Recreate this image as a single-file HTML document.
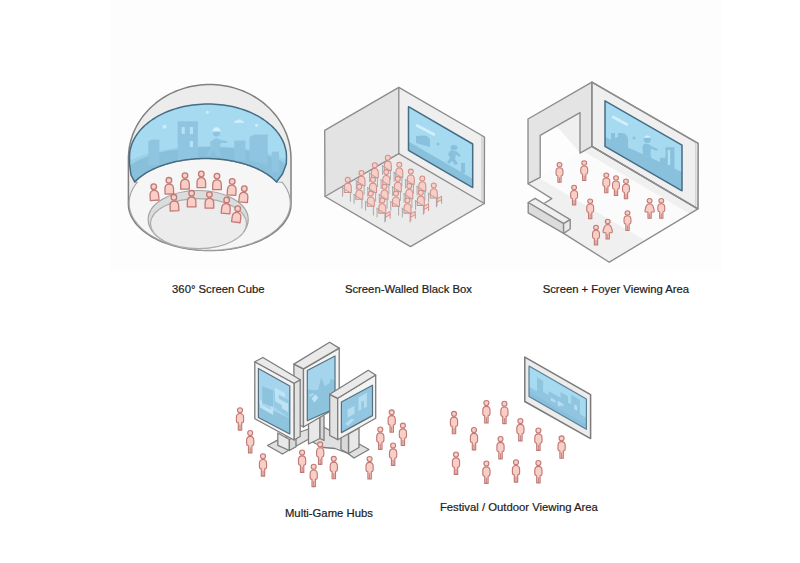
<!DOCTYPE html>
<html><head><meta charset="utf-8"><style>
html,body{margin:0;padding:0;background:#fff;}
body{width:800px;height:563px;overflow:hidden;}
svg{display:block;}
</style></head><body>
<svg width="800" height="563" viewBox="0 0 800 563">
<rect width="800" height="563" fill="#ffffff"/><rect x="111" y="0" width="611" height="271" fill="#fdfdfd"/>
<path d="M128.4,158.5 L128.5,155.6 L128.7,152.7 L129,149.8 L129.4,146.9 L130,144.1 L130.6,141.2 L131.5,138.4 L132.4,135.6 L133.4,132.9 L134.6,130.2 L135.9,127.5 L137.3,124.9 L138.8,122.3 L140.4,119.8 L142.1,117.4 L143.9,115 L145.9,112.7 L147.9,110.4 L150,108.3 L152.2,106.2 L154.5,104.2 L156.9,102.2 L159.4,100.4 L161.9,98.6 L164.5,97 L167.2,95.4 L170,93.9 L172.8,92.6 L175.7,91.3 L178.6,90.1 L181.6,89.1 L184.6,88.1 L187.6,87.3 L190.7,86.5 L193.8,85.9 L197,85.4 L200.1,85 L203.3,84.7 L206.5,84.6 L209.7,84.5 L212.9,84.6 L216.1,84.7 L219.3,85 L222.4,85.4 L225.6,85.9 L228.7,86.5 L231.8,87.3 L234.8,88.1 L237.8,89.1 L240.8,90.1 L243.7,91.3 L246.6,92.6 L249.4,93.9 L252.2,95.4 L254.9,97 L257.5,98.6 L260,100.4 L262.5,102.2 L264.9,104.2 L267.2,106.2 L269.4,108.3 L271.5,110.4 L273.5,112.7 L275.5,115 L277.3,117.4 L279,119.8 L280.6,122.3 L282.1,124.9 L283.5,127.5 L284.8,130.2 L286,132.9 L287,135.6 L287.9,138.4 L288.8,141.2 L289.4,144.1 L290,146.9 L290.4,149.8 L290.7,152.7 L290.9,155.6 L291,158.5 L291,204 L291,204 L290.9,206.4 L290.6,208.9 L290,211.3 L289.2,213.7 L288.2,216.1 L287,218.4 L285.6,220.7 L284,223 L282.1,225.2 L280.1,227.3 L277.9,229.4 L275.5,231.4 L272.9,233.3 L270.1,235.2 L267.2,237 L264.1,238.6 L260.9,240.2 L257.5,241.7 L254,243.1 L250.3,244.4 L246.6,245.5 L242.8,246.6 L238.8,247.5 L234.8,248.3 L230.7,249 L226.6,249.6 L222.4,250 L218.2,250.3 L214,250.5 L209.7,250.6 L205.4,250.5 L201.2,250.3 L197,250 L192.8,249.6 L188.7,249 L184.6,248.3 L180.6,247.5 L176.6,246.6 L172.8,245.5 L169.1,244.4 L165.4,243.1 L161.9,241.7 L158.5,240.2 L155.3,238.6 L152.2,237 L149.3,235.2 L146.5,233.3 L143.9,231.4 L141.5,229.4 L139.3,227.3 L137.3,225.2 L135.4,223 L133.8,220.7 L132.4,218.4 L131.2,216.1 L130.2,213.7 L129.4,211.3 L128.8,208.9 L128.5,206.4 L128.4,204Z" fill="#ececec" stroke="#808080" stroke-width="1.5"/><path d="M276.6,182 L274.2,179.7 L271.9,177.7 L269.5,175.9 L267.1,174.2 L264.8,172.8 L262.4,171.4 L260,170.2 L257.7,169 L255.3,167.9 L253,167 L250.6,166 L248.2,165.2 L245.9,164.4 L243.5,163.7 L241.1,163 L238.8,162.4 L236.4,161.9 L234,161.3 L231.7,160.9 L229.3,160.5 L226.9,160.1 L224.6,159.7 L222.2,159.4 L219.8,159.2 L217.5,159 L215.1,158.8 L212.7,158.7 L210.4,158.6 L208,158.5 L205.7,158.5 L203.3,158.5 L200.9,158.6 L198.6,158.7 L196.2,158.8 L193.8,159 L191.5,159.2 L189.1,159.4 L186.7,159.7 L184.4,160.1 L182,160.4 L179.6,160.9 L177.3,161.3 L174.9,161.8 L172.5,162.4 L170.2,163 L167.8,163.7 L165.4,164.4 L163.1,165.2 L160.7,166 L158.3,166.9 L156,167.9 L153.6,169 L151.3,170.1 L148.9,171.3 L146.5,172.7 L144.2,174.2 L141.8,175.8 L139.4,177.6 L137.1,179.6 L134.7,181.9 L137.2,182.3 L135.5,184.5 L134,186.7 L132.7,189 L131.6,191.3 L130.7,193.6 L130,196 L129.5,198.3 L129.2,200.7 L129.1,203.1 L129.2,205.5 L129.5,207.9 L130.1,210.3 L130.8,212.6 L131.7,214.9 L132.8,217.2 L134.2,219.5 L135.7,221.7 L137.4,223.9 L139.3,226 L141.4,228.1 L143.6,230.1 L146,232 L148.6,233.9 L151.4,235.6 L154.2,237.3 L157.3,238.9 L160.4,240.4 L163.7,241.8 L167.1,243.2 L170.6,244.4 L174.3,245.5 L178,246.5 L181.7,247.4 L185.6,248.1 L189.5,248.8 L193.5,249.3 L197.5,249.8 L201.6,250.1 L205.6,250.2 L209.7,250.3 L213.8,250.2 L217.8,250.1 L221.9,249.8 L225.9,249.3 L229.9,248.8 L233.8,248.1 L237.7,247.4 L241.4,246.5 L245.1,245.5 L248.8,244.4 L252.3,243.2 L255.7,241.8 L259,240.4 L262.1,238.9 L265.2,237.3 L268,235.6 L270.8,233.9 L273.4,232 L275.8,230.1 L278,228.1 L280.1,226 L282,223.9 L283.7,221.7 L285.2,219.5 L286.6,217.2 L287.7,214.9 L288.6,212.6 L289.3,210.3 L289.9,207.9 L290.2,205.5 L290.3,203.1 L290.2,200.7 L289.9,198.3 L289.4,196 L288.7,193.6 L287.8,191.3 L286.7,189 L285.4,186.7 L283.9,184.5 L282.2,182.3Z" fill="#f6f6f6" stroke="#a0a0a0" stroke-width="1.1"/><defs><clipPath id="cylscr"><path d="M129.5,157 L129.6,154.9 L129.7,152.8 L130,150.8 L130.5,148.7 L131,146.7 L131.7,144.6 L132.4,142.6 L133.3,140.6 L134.4,138.7 L135.5,136.7 L136.7,134.8 L138.1,132.9 L139.5,131.1 L141.1,129.3 L142.7,127.6 L144.5,125.8 L146.4,124.2 L148.3,122.6 L150.4,121 L152.5,119.5 L154.7,118.1 L157,116.7 L159.4,115.4 L161.9,114.1 L164.4,112.9 L167,111.8 L169.6,110.8 L172.4,109.8 L175.1,108.9 L178,108 L180.8,107.3 L183.7,106.6 L186.7,106 L189.7,105.5 L192.7,105 L195.7,104.7 L198.8,104.4 L201.8,104.2 L204.9,104 L208,104 L211.1,104 L214.2,104.2 L217.2,104.4 L220.3,104.7 L223.3,105 L226.3,105.5 L229.3,106 L232.3,106.6 L235.2,107.3 L238,108 L240.9,108.9 L243.6,109.8 L246.4,110.8 L249,111.8 L251.6,112.9 L254.1,114.1 L256.6,115.4 L259,116.7 L261.3,118.1 L263.5,119.5 L265.6,121 L267.7,122.6 L269.6,124.2 L271.5,125.8 L273.3,127.6 L274.9,129.3 L276.5,131.1 L277.9,132.9 L279.3,134.8 L280.5,136.7 L281.6,138.7 L282.7,140.6 L283.6,142.6 L284.3,144.6 L285,146.7 L285.5,148.7 L286,150.8 L286.3,152.8 L286.4,154.9 L286.5,157 L286.3,164 L282.5,174 L276.6,181.8 L276.6,182 L274.2,179.7 L271.9,177.7 L269.5,175.9 L267.1,174.2 L264.8,172.8 L262.4,171.4 L260,170.2 L257.7,169 L255.3,167.9 L253,167 L250.6,166 L248.2,165.2 L245.9,164.4 L243.5,163.7 L241.1,163 L238.8,162.4 L236.4,161.9 L234,161.3 L231.7,160.9 L229.3,160.5 L226.9,160.1 L224.6,159.7 L222.2,159.4 L219.8,159.2 L217.5,159 L215.1,158.8 L212.7,158.7 L210.4,158.6 L208,158.5 L205.7,158.5 L203.3,158.5 L200.9,158.6 L198.6,158.7 L196.2,158.8 L193.8,159 L191.5,159.2 L189.1,159.4 L186.7,159.7 L184.4,160.1 L182,160.4 L179.6,160.9 L177.3,161.3 L174.9,161.8 L172.5,162.4 L170.2,163 L167.8,163.7 L165.4,164.4 L163.1,165.2 L160.7,166 L158.3,166.9 L156,167.9 L153.6,169 L151.3,170.1 L148.9,171.3 L146.5,172.7 L144.2,174.2 L141.8,175.8 L139.4,177.6 L137.1,179.6 L134.7,181.9 L131,175 L129.5,164Z"/></clipPath></defs><path d="M129.5,157 L129.6,154.9 L129.7,152.8 L130,150.8 L130.5,148.7 L131,146.7 L131.7,144.6 L132.4,142.6 L133.3,140.6 L134.4,138.7 L135.5,136.7 L136.7,134.8 L138.1,132.9 L139.5,131.1 L141.1,129.3 L142.7,127.6 L144.5,125.8 L146.4,124.2 L148.3,122.6 L150.4,121 L152.5,119.5 L154.7,118.1 L157,116.7 L159.4,115.4 L161.9,114.1 L164.4,112.9 L167,111.8 L169.6,110.8 L172.4,109.8 L175.1,108.9 L178,108 L180.8,107.3 L183.7,106.6 L186.7,106 L189.7,105.5 L192.7,105 L195.7,104.7 L198.8,104.4 L201.8,104.2 L204.9,104 L208,104 L211.1,104 L214.2,104.2 L217.2,104.4 L220.3,104.7 L223.3,105 L226.3,105.5 L229.3,106 L232.3,106.6 L235.2,107.3 L238,108 L240.9,108.9 L243.6,109.8 L246.4,110.8 L249,111.8 L251.6,112.9 L254.1,114.1 L256.6,115.4 L259,116.7 L261.3,118.1 L263.5,119.5 L265.6,121 L267.7,122.6 L269.6,124.2 L271.5,125.8 L273.3,127.6 L274.9,129.3 L276.5,131.1 L277.9,132.9 L279.3,134.8 L280.5,136.7 L281.6,138.7 L282.7,140.6 L283.6,142.6 L284.3,144.6 L285,146.7 L285.5,148.7 L286,150.8 L286.3,152.8 L286.4,154.9 L286.5,157 L286.3,164 L282.5,174 L276.6,181.8 L276.6,182 L274.2,179.7 L271.9,177.7 L269.5,175.9 L267.1,174.2 L264.8,172.8 L262.4,171.4 L260,170.2 L257.7,169 L255.3,167.9 L253,167 L250.6,166 L248.2,165.2 L245.9,164.4 L243.5,163.7 L241.1,163 L238.8,162.4 L236.4,161.9 L234,161.3 L231.7,160.9 L229.3,160.5 L226.9,160.1 L224.6,159.7 L222.2,159.4 L219.8,159.2 L217.5,159 L215.1,158.8 L212.7,158.7 L210.4,158.6 L208,158.5 L205.7,158.5 L203.3,158.5 L200.9,158.6 L198.6,158.7 L196.2,158.8 L193.8,159 L191.5,159.2 L189.1,159.4 L186.7,159.7 L184.4,160.1 L182,160.4 L179.6,160.9 L177.3,161.3 L174.9,161.8 L172.5,162.4 L170.2,163 L167.8,163.7 L165.4,164.4 L163.1,165.2 L160.7,166 L158.3,166.9 L156,167.9 L153.6,169 L151.3,170.1 L148.9,171.3 L146.5,172.7 L144.2,174.2 L141.8,175.8 L139.4,177.6 L137.1,179.6 L134.7,181.9 L131,175 L129.5,164Z" fill="#a6daf1"/><g clip-path="url(#cylscr)"><path d="M107,185 L107.1,183 L107.6,180.9 L108.3,178.9 L109.2,176.9 L110.5,174.9 L112,172.9 L113.8,171 L115.8,169.1 L118.1,167.3 L120.7,165.5 L123.5,163.8 L126.5,162.1 L129.7,160.5 L133.2,158.9 L136.9,157.4 L140.7,156 L144.8,154.7 L149,153.4 L153.4,152.3 L158,151.2 L162.7,150.3 L167.5,149.4 L172.4,148.6 L177.5,147.9 L182.6,147.3 L187.8,146.9 L193,146.5 L198.3,146.2 L203.7,146.1 L209,146 L214.3,146.1 L219.7,146.2 L225,146.5 L230.2,146.9 L235.4,147.3 L240.5,147.9 L245.6,148.6 L250.5,149.4 L255.3,150.3 L260,151.2 L264.6,152.3 L269,153.4 L273.2,154.7 L277.3,156 L281.1,157.4 L284.8,158.9 L288.3,160.5 L291.5,162.1 L294.5,163.8 L297.3,165.5 L299.9,167.3 L302.2,169.1 L304.2,171 L306,172.9 L307.5,174.9 L308.8,176.9 L309.7,178.9 L310.4,180.9 L310.9,183 L311,185 L311,200 L107,200Z" fill="#9dd0e8"/><path d="M121,180 L121.1,178.3 L121.5,176.6 L122.1,174.8 L122.9,173.1 L124,171.5 L125.3,169.8 L126.8,168.2 L128.6,166.6 L130.6,165 L132.8,163.5 L135.2,162 L137.8,160.6 L140.6,159.2 L143.6,157.9 L146.8,156.7 L150.1,155.5 L153.6,154.4 L157.3,153.3 L161.1,152.3 L165,151.4 L169,150.6 L173.2,149.9 L177.5,149.2 L181.8,148.6 L186.2,148.1 L190.7,147.7 L195.2,147.4 L199.8,147.2 L204.4,147 L209,147 L213.6,147 L218.2,147.2 L222.8,147.4 L227.3,147.7 L231.8,148.1 L236.2,148.6 L240.5,149.2 L244.8,149.9 L249,150.6 L253,151.4 L256.9,152.3 L260.7,153.3 L264.4,154.4 L267.9,155.5 L271.2,156.7 L274.4,157.9 L277.4,159.2 L280.2,160.6 L282.8,162 L285.2,163.5 L287.4,165 L289.4,166.6 L291.2,168.2 L292.7,169.8 L294,171.5 L295.1,173.1 L295.9,174.8 L296.5,176.6 L296.9,178.3 L297,180 L297,200 L121,200Z" fill="#88c0dc"/><path d="M148.3,165 L148.3,141 L152,139.5 L159.4,139.5 L159.4,165 Z" fill="#8fc5e0"/><rect x="177.6" y="121.3" width="20.3" height="40" fill="#8fc5e0"/><rect x="181.6" y="127" width="3.2" height="7" fill="#b5e1f4"/><rect x="189.8" y="127" width="3.2" height="7" fill="#b5e1f4"/><rect x="189.8" y="141" width="3.2" height="6" fill="#b5e1f4"/><rect x="234.3" y="140.5" width="11.2" height="20" fill="#8fc5e0"/><path d="M249.5,160 L249.5,137 L254,134.4 L267.7,134.4 L267.7,165 Z" fill="#8fc5e0"/><rect x="271.8" y="151.6" width="7.1" height="20" fill="#8fc5e0"/><circle cx="216.5" cy="133" r="3.6" fill="#8fc5e0"/><path d="M210,142 L216,138 L221,140 L227,141 L227.5,143 L221,143 L219,149 L221,156 L216,156 L214,150 L210,156 L206,155 L211,148 Z" fill="#8fc5e0"/><path d="M212.3,131.5 Q213,127.5 216.5,127.3 Q220,127.5 220.7,131.5 Z" fill="#d4effb"/><circle cx="164.5" cy="126.7" r="2" fill="#cdecfa"/><circle cx="207.4" cy="112.2" r="1.5" fill="#cdecfa"/><circle cx="256.6" cy="125.3" r="1.6" fill="#cdecfa"/><path d="M234,123 Q235,119.5 238,120 Q240,118 242.5,121 Q244.5,121 244,123 Z" fill="#cdecfa"/></g><path d="M129.5,157 L129.6,154.9 L129.7,152.8 L130,150.8 L130.5,148.7 L131,146.7 L131.7,144.6 L132.4,142.6 L133.3,140.6 L134.4,138.7 L135.5,136.7 L136.7,134.8 L138.1,132.9 L139.5,131.1 L141.1,129.3 L142.7,127.6 L144.5,125.8 L146.4,124.2 L148.3,122.6 L150.4,121 L152.5,119.5 L154.7,118.1 L157,116.7 L159.4,115.4 L161.9,114.1 L164.4,112.9 L167,111.8 L169.6,110.8 L172.4,109.8 L175.1,108.9 L178,108 L180.8,107.3 L183.7,106.6 L186.7,106 L189.7,105.5 L192.7,105 L195.7,104.7 L198.8,104.4 L201.8,104.2 L204.9,104 L208,104 L211.1,104 L214.2,104.2 L217.2,104.4 L220.3,104.7 L223.3,105 L226.3,105.5 L229.3,106 L232.3,106.6 L235.2,107.3 L238,108 L240.9,108.9 L243.6,109.8 L246.4,110.8 L249,111.8 L251.6,112.9 L254.1,114.1 L256.6,115.4 L259,116.7 L261.3,118.1 L263.5,119.5 L265.6,121 L267.7,122.6 L269.6,124.2 L271.5,125.8 L273.3,127.6 L274.9,129.3 L276.5,131.1 L277.9,132.9 L279.3,134.8 L280.5,136.7 L281.6,138.7 L282.7,140.6 L283.6,142.6 L284.3,144.6 L285,146.7 L285.5,148.7 L286,150.8 L286.3,152.8 L286.4,154.9 L286.5,157 L286.3,164 L282.5,174 L276.6,181.8 L276.6,182 L274.2,179.7 L271.9,177.7 L269.5,175.9 L267.1,174.2 L264.8,172.8 L262.4,171.4 L260,170.2 L257.7,169 L255.3,167.9 L253,167 L250.6,166 L248.2,165.2 L245.9,164.4 L243.5,163.7 L241.1,163 L238.8,162.4 L236.4,161.9 L234,161.3 L231.7,160.9 L229.3,160.5 L226.9,160.1 L224.6,159.7 L222.2,159.4 L219.8,159.2 L217.5,159 L215.1,158.8 L212.7,158.7 L210.4,158.6 L208,158.5 L205.7,158.5 L203.3,158.5 L200.9,158.6 L198.6,158.7 L196.2,158.8 L193.8,159 L191.5,159.2 L189.1,159.4 L186.7,159.7 L184.4,160.1 L182,160.4 L179.6,160.9 L177.3,161.3 L174.9,161.8 L172.5,162.4 L170.2,163 L167.8,163.7 L165.4,164.4 L163.1,165.2 L160.7,166 L158.3,166.9 L156,167.9 L153.6,169 L151.3,170.1 L148.9,171.3 L146.5,172.7 L144.2,174.2 L141.8,175.8 L139.4,177.6 L137.1,179.6 L134.7,181.9 L131,175 L129.5,164Z" fill="none" stroke="#476c84" stroke-width="1.5" stroke-linejoin="round"/><ellipse cx="198.2" cy="219.5" rx="50" ry="29" fill="#dcdcdc" stroke="#a3a3a3" stroke-width="1.2"/><ellipse cx="198.5" cy="223.6" rx="48" ry="25" fill="#ececec" stroke="#acacac" stroke-width="1.1"/><g transform="rotate(-4 154.3 194.7)"><path d="M150,200.3 L150,195.3 C149.9,192.1 151.7,190.4 154.3,190.4 C156.9,190.4 158.7,192.1 158.6,195.3 L158.6,200.3 Z" fill="#f8cec7" stroke="#c07a75" stroke-width="1.3" stroke-linejoin="round"/><circle cx="154.3" cy="186.7" r="2.8" fill="#f8cec7" stroke="#c07a75" stroke-width="1.3"/></g><g transform="rotate(-2 169.2 188.3)"><path d="M164.9,193.9 L164.9,188.9 C164.8,185.7 166.6,184 169.2,184 C171.8,184 173.6,185.7 173.5,188.9 L173.5,193.9 Z" fill="#f8cec7" stroke="#c07a75" stroke-width="1.3" stroke-linejoin="round"/><circle cx="169.2" cy="180.3" r="2.8" fill="#f8cec7" stroke="#c07a75" stroke-width="1.3"/></g><g><path d="M180.7,189.2 L180.7,184.2 C180.6,181 182.4,179.3 185,179.3 C187.6,179.3 189.4,181 189.3,184.2 L189.3,189.2 Z" fill="#f8cec7" stroke="#c07a75" stroke-width="1.3" stroke-linejoin="round"/><circle cx="185" cy="175.6" r="2.8" fill="#f8cec7" stroke="#c07a75" stroke-width="1.3"/></g><g><path d="M197,187.6 L197,182.6 C196.9,179.4 198.7,177.7 201.3,177.7 C203.9,177.7 205.7,179.4 205.6,182.6 L205.6,187.6 Z" fill="#f8cec7" stroke="#c07a75" stroke-width="1.3" stroke-linejoin="round"/><circle cx="201.3" cy="174" r="2.8" fill="#f8cec7" stroke="#c07a75" stroke-width="1.3"/></g><g><path d="M212.7,189.7 L212.7,184.7 C212.6,181.5 214.4,179.8 217,179.8 C219.6,179.8 221.4,181.5 221.3,184.7 L221.3,189.7 Z" fill="#f8cec7" stroke="#c07a75" stroke-width="1.3" stroke-linejoin="round"/><circle cx="217" cy="176.1" r="2.8" fill="#f8cec7" stroke="#c07a75" stroke-width="1.3"/></g><g transform="rotate(3 231.8 189.5)"><path d="M227.5,195.1 L227.5,190.1 C227.4,186.9 229.2,185.2 231.8,185.2 C234.4,185.2 236.2,186.9 236.1,190.1 L236.1,195.1 Z" fill="#f8cec7" stroke="#c07a75" stroke-width="1.3" stroke-linejoin="round"/><circle cx="231.8" cy="181.5" r="2.8" fill="#f8cec7" stroke="#c07a75" stroke-width="1.3"/></g><g transform="rotate(5 243.6 196.6)"><path d="M239.3,202.2 L239.3,197.2 C239.2,194 241,192.3 243.6,192.3 C246.2,192.3 248,194 247.9,197.2 L247.9,202.2 Z" fill="#f8cec7" stroke="#c07a75" stroke-width="1.3" stroke-linejoin="round"/><circle cx="243.6" cy="188.6" r="2.8" fill="#f8cec7" stroke="#c07a75" stroke-width="1.3"/></g><g transform="rotate(-3 174.3 205.3)"><path d="M170,210.9 L170,205.9 C169.9,202.7 171.7,201 174.3,201 C176.9,201 178.7,202.7 178.6,205.9 L178.6,210.9 Z" fill="#f8cec7" stroke="#c07a75" stroke-width="1.3" stroke-linejoin="round"/><circle cx="174.3" cy="197.3" r="2.8" fill="#f8cec7" stroke="#c07a75" stroke-width="1.3"/></g><g><path d="M187.3,206.9 L187.3,201.9 C187.2,198.7 189,197 191.6,197 C194.2,197 196,198.7 195.9,201.9 L195.9,206.9 Z" fill="#f8cec7" stroke="#c07a75" stroke-width="1.3" stroke-linejoin="round"/><circle cx="191.6" cy="193.3" r="2.8" fill="#f8cec7" stroke="#c07a75" stroke-width="1.3"/></g><g><path d="M205.1,208.2 L205.1,203.2 C205,200 206.8,198.3 209.4,198.3 C212,198.3 213.8,200 213.7,203.2 L213.7,208.2 Z" fill="#f8cec7" stroke="#c07a75" stroke-width="1.3" stroke-linejoin="round"/><circle cx="209.4" cy="194.6" r="2.8" fill="#f8cec7" stroke="#c07a75" stroke-width="1.3"/></g><g transform="rotate(5 226 208)"><path d="M221.7,213.6 L221.7,208.6 C221.6,205.4 223.4,203.7 226,203.7 C228.6,203.7 230.4,205.4 230.3,208.6 L230.3,213.6 Z" fill="#f8cec7" stroke="#c07a75" stroke-width="1.3" stroke-linejoin="round"/><circle cx="226" cy="200" r="2.8" fill="#f8cec7" stroke="#c07a75" stroke-width="1.3"/></g><g transform="rotate(8 236.6 216.6)"><path d="M232.3,222.2 L232.3,217.2 C232.2,214 234,212.3 236.6,212.3 C239.2,212.3 241,214 240.9,217.2 L240.9,222.2 Z" fill="#f8cec7" stroke="#c07a75" stroke-width="1.3" stroke-linejoin="round"/><circle cx="236.6" cy="208.6" r="2.8" fill="#f8cec7" stroke="#c07a75" stroke-width="1.3"/></g><polygon points="324.7,130.4 398.8,87.4 398.8,153.6 325,196.5" fill="#e3e3e3" stroke="none" stroke-width="0" stroke-linejoin="round" /><polygon points="398.8,87.4 484.5,137 484.3,203.5 398.8,153.6" fill="#efefef" stroke="none" stroke-width="0" stroke-linejoin="round" /><polygon points="398.8,153.6 484.3,203.5 410.5,246.6 325,196.5" fill="#ebebeb" stroke="none" stroke-width="0" stroke-linejoin="round" /><polygon points="481.8,135.5 484.5,137 484.3,203.5 481.8,202" fill="#e0e0e0" stroke="none" stroke-width="0" stroke-linejoin="round" /><line x1="481.8" y1="136" x2="481.8" y2="201.5" stroke="#c8c8c8" stroke-width="0.8" stroke-linecap="round" /><defs><clipPath id="boxscr"><polygon points="408.5,106.7 472.7,144 472.7,187.6 408.5,150.3"/></clipPath></defs><polygon points="408.5,106.7 472.7,144 472.7,187.6 408.5,150.3" fill="#a6daf1" stroke="none" stroke-width="0" stroke-linejoin="round" /><g clip-path="url(#boxscr)"><polygon points="408.5,141.5 472.7,178.8 472.7,190 408.5,152" fill="#89c1dd" stroke="none" stroke-width="0" stroke-linejoin="round" /><path d="M416,143 L416,136 L423,135.5 Q428,135 430,140 L430,147 Z" fill="#89c1dd"/><line x1="417" y1="125.5" x2="434" y2="134.5" stroke="#d3effb" stroke-width="2.6" stroke-linecap="round" /><circle cx="438" cy="144" r="1.5" fill="#89c1dd"/><ellipse cx="454" cy="147.5" rx="3.5" ry="2.6" fill="#89c1dd"/><path d="M448,154 L451,150 L457,151.5 L461,156 L459,157 L456,154.5 L455,159 L458,164 L455,165 L452,161 L449,164 L447,162 L450,158 Z" fill="#89c1dd"/><rect x="461" y="163" width="4" height="10" fill="#89c1dd"/></g><polygon points="408.5,106.7 472.7,144 472.7,187.6 408.5,150.3" fill="none" stroke="#476c84" stroke-width="1.5" stroke-linejoin="round" /><polygon points="324.7,130.4 398.8,87.4 484.5,137 484.3,203.5 410.5,246.6 325,196.5" fill="none" stroke="#8c8c8c" stroke-width="1.35" stroke-linejoin="round" /><line x1="398.8" y1="87.4" x2="398.8" y2="153.6" stroke="#8c8c8c" stroke-width="1.35" stroke-linecap="round" /><line x1="398.8" y1="153.6" x2="325" y2="196.5" stroke="#8c8c8c" stroke-width="1.35" stroke-linecap="round" /><line x1="398.8" y1="153.6" x2="484.3" y2="203.5" stroke="#8c8c8c" stroke-width="1.35" stroke-linecap="round" /><line x1="382.6" y1="165.6" x2="382.6" y2="174.4" stroke="#a8a8a8" stroke-width="1.0" stroke-linecap="round" /><line x1="390.4" y1="170.4" x2="390.4" y2="179.3" stroke="#a8a8a8" stroke-width="1.0" stroke-linecap="round" /><path d="M384.3,170.4 L384.3,165.4 C384.2,162.6 385.6,161.1 387.8,161.1 C390,161.1 391.4,162.6 391.3,165.4 L391.3,170.4 Z" fill="#f8cec7" stroke="#d0908b" stroke-width="1.05" stroke-linejoin="round"/><circle cx="387.8" cy="157.8" r="2.5" fill="#f8cec7" stroke="#d0908b" stroke-width="1.05"/><line x1="382.2" y1="165.6" x2="390.8" y2="171" stroke="#a8a8a8" stroke-width="1.0" stroke-linecap="round" /><line x1="394.1" y1="172.5" x2="394.1" y2="181.3" stroke="#a8a8a8" stroke-width="1.0" stroke-linecap="round" /><line x1="401.9" y1="177.3" x2="401.9" y2="186.2" stroke="#a8a8a8" stroke-width="1.0" stroke-linecap="round" /><path d="M395.8,177.3 L395.8,172.3 C395.7,169.5 397.1,168 399.3,168 C401.5,168 402.9,169.5 402.8,172.3 L402.8,177.3 Z" fill="#f8cec7" stroke="#d0908b" stroke-width="1.05" stroke-linejoin="round"/><circle cx="399.3" cy="164.7" r="2.5" fill="#f8cec7" stroke="#d0908b" stroke-width="1.05"/><line x1="393.7" y1="172.5" x2="402.3" y2="177.9" stroke="#a8a8a8" stroke-width="1.0" stroke-linecap="round" /><line x1="405.6" y1="179.4" x2="405.6" y2="188.2" stroke="#a8a8a8" stroke-width="1.0" stroke-linecap="round" /><line x1="413.4" y1="184.2" x2="413.4" y2="193.1" stroke="#a8a8a8" stroke-width="1.0" stroke-linecap="round" /><path d="M407.3,184.2 L407.3,179.2 C407.2,176.4 408.6,174.9 410.8,174.9 C413,174.9 414.4,176.4 414.3,179.2 L414.3,184.2 Z" fill="#f8cec7" stroke="#d0908b" stroke-width="1.05" stroke-linejoin="round"/><circle cx="410.8" cy="171.6" r="2.5" fill="#f8cec7" stroke="#d0908b" stroke-width="1.05"/><line x1="405.2" y1="179.4" x2="413.8" y2="184.8" stroke="#a8a8a8" stroke-width="1.0" stroke-linecap="round" /><line x1="417.1" y1="186.3" x2="417.1" y2="195.1" stroke="#a8a8a8" stroke-width="1.0" stroke-linecap="round" /><line x1="424.9" y1="191.1" x2="424.9" y2="200" stroke="#a8a8a8" stroke-width="1.0" stroke-linecap="round" /><path d="M418.8,191.1 L418.8,186.1 C418.7,183.3 420.1,181.8 422.3,181.8 C424.5,181.8 425.9,183.3 425.8,186.1 L425.8,191.1 Z" fill="#f8cec7" stroke="#d0908b" stroke-width="1.05" stroke-linejoin="round"/><circle cx="422.3" cy="178.5" r="2.5" fill="#f8cec7" stroke="#d0908b" stroke-width="1.05"/><line x1="416.7" y1="186.3" x2="425.3" y2="191.7" stroke="#a8a8a8" stroke-width="1.0" stroke-linecap="round" /><line x1="428.6" y1="193.2" x2="428.6" y2="202" stroke="#a8a8a8" stroke-width="1.0" stroke-linecap="round" /><line x1="436.4" y1="198" x2="436.4" y2="206.9" stroke="#a8a8a8" stroke-width="1.0" stroke-linecap="round" /><polygon points="437,198.8 441.6,196.2 441.6,199.6 437,202.2" fill="#f8cec7" stroke="#d0908b" stroke-width="1.0" stroke-linejoin="round" /><line x1="437" y1="202.2" x2="437" y2="205.7" stroke="#d0908b" stroke-width="1.0" stroke-linecap="round" /><line x1="441.6" y1="199.6" x2="441.6" y2="203.2" stroke="#d0908b" stroke-width="1.0" stroke-linecap="round" /><path d="M430.3,198 L430.3,193 C430.2,190.2 431.6,188.7 433.8,188.7 C436,188.7 437.4,190.2 437.3,193 L437.3,198 Z" fill="#f8cec7" stroke="#d0908b" stroke-width="1.05" stroke-linejoin="round"/><circle cx="433.8" cy="185.4" r="2.5" fill="#f8cec7" stroke="#d0908b" stroke-width="1.05"/><line x1="428.2" y1="193.2" x2="436.8" y2="198.6" stroke="#a8a8a8" stroke-width="1.0" stroke-linecap="round" /><line x1="369.6" y1="173" x2="369.6" y2="181.8" stroke="#a8a8a8" stroke-width="1.0" stroke-linecap="round" /><line x1="377.4" y1="177.8" x2="377.4" y2="186.7" stroke="#a8a8a8" stroke-width="1.0" stroke-linecap="round" /><path d="M371.3,177.8 L371.3,172.8 C371.2,170 372.6,168.5 374.8,168.5 C377,168.5 378.4,170 378.3,172.8 L378.3,177.8 Z" fill="#f8cec7" stroke="#d0908b" stroke-width="1.05" stroke-linejoin="round"/><circle cx="374.8" cy="165.2" r="2.5" fill="#f8cec7" stroke="#d0908b" stroke-width="1.05"/><line x1="369.2" y1="173" x2="377.8" y2="178.4" stroke="#a8a8a8" stroke-width="1.0" stroke-linecap="round" /><line x1="381.1" y1="179.9" x2="381.1" y2="188.7" stroke="#a8a8a8" stroke-width="1.0" stroke-linecap="round" /><line x1="388.9" y1="184.7" x2="388.9" y2="193.6" stroke="#a8a8a8" stroke-width="1.0" stroke-linecap="round" /><path d="M382.8,184.7 L382.8,179.7 C382.7,176.9 384.1,175.4 386.3,175.4 C388.5,175.4 389.9,176.9 389.8,179.7 L389.8,184.7 Z" fill="#f8cec7" stroke="#d0908b" stroke-width="1.05" stroke-linejoin="round"/><circle cx="386.3" cy="172.1" r="2.5" fill="#f8cec7" stroke="#d0908b" stroke-width="1.05"/><line x1="380.7" y1="179.9" x2="389.3" y2="185.3" stroke="#a8a8a8" stroke-width="1.0" stroke-linecap="round" /><line x1="392.6" y1="186.8" x2="392.6" y2="195.6" stroke="#a8a8a8" stroke-width="1.0" stroke-linecap="round" /><line x1="400.4" y1="191.6" x2="400.4" y2="200.5" stroke="#a8a8a8" stroke-width="1.0" stroke-linecap="round" /><path d="M394.3,191.6 L394.3,186.6 C394.2,183.8 395.6,182.3 397.8,182.3 C400,182.3 401.4,183.8 401.3,186.6 L401.3,191.6 Z" fill="#f8cec7" stroke="#d0908b" stroke-width="1.05" stroke-linejoin="round"/><circle cx="397.8" cy="179" r="2.5" fill="#f8cec7" stroke="#d0908b" stroke-width="1.05"/><line x1="392.2" y1="186.8" x2="400.8" y2="192.2" stroke="#a8a8a8" stroke-width="1.0" stroke-linecap="round" /><line x1="404.1" y1="193.7" x2="404.1" y2="202.5" stroke="#a8a8a8" stroke-width="1.0" stroke-linecap="round" /><line x1="411.9" y1="198.5" x2="411.9" y2="207.4" stroke="#a8a8a8" stroke-width="1.0" stroke-linecap="round" /><path d="M405.8,198.5 L405.8,193.5 C405.7,190.7 407.1,189.2 409.3,189.2 C411.5,189.2 412.9,190.7 412.8,193.5 L412.8,198.5 Z" fill="#f8cec7" stroke="#d0908b" stroke-width="1.05" stroke-linejoin="round"/><circle cx="409.3" cy="185.9" r="2.5" fill="#f8cec7" stroke="#d0908b" stroke-width="1.05"/><line x1="403.7" y1="193.7" x2="412.3" y2="199.1" stroke="#a8a8a8" stroke-width="1.0" stroke-linecap="round" /><line x1="415.6" y1="200.6" x2="415.6" y2="209.4" stroke="#a8a8a8" stroke-width="1.0" stroke-linecap="round" /><line x1="423.4" y1="205.4" x2="423.4" y2="214.3" stroke="#a8a8a8" stroke-width="1.0" stroke-linecap="round" /><polygon points="424,206.2 428.6,203.6 428.6,207 424,209.6" fill="#f8cec7" stroke="#d0908b" stroke-width="1.0" stroke-linejoin="round" /><line x1="424" y1="209.6" x2="424" y2="213.1" stroke="#d0908b" stroke-width="1.0" stroke-linecap="round" /><line x1="428.6" y1="207" x2="428.6" y2="210.6" stroke="#d0908b" stroke-width="1.0" stroke-linecap="round" /><path d="M417.3,205.4 L417.3,200.4 C417.2,197.6 418.6,196.1 420.8,196.1 C423,196.1 424.4,197.6 424.3,200.4 L424.3,205.4 Z" fill="#f8cec7" stroke="#d0908b" stroke-width="1.05" stroke-linejoin="round"/><circle cx="420.8" cy="192.8" r="2.5" fill="#f8cec7" stroke="#d0908b" stroke-width="1.05"/><line x1="415.2" y1="200.6" x2="423.8" y2="206" stroke="#a8a8a8" stroke-width="1.0" stroke-linecap="round" /><line x1="356.3" y1="180.7" x2="356.3" y2="189.5" stroke="#a8a8a8" stroke-width="1.0" stroke-linecap="round" /><line x1="364.1" y1="185.5" x2="364.1" y2="194.4" stroke="#a8a8a8" stroke-width="1.0" stroke-linecap="round" /><path d="M358,185.5 L358,180.5 C357.9,177.7 359.3,176.2 361.5,176.2 C363.7,176.2 365.1,177.7 365,180.5 L365,185.5 Z" fill="#f8cec7" stroke="#d0908b" stroke-width="1.05" stroke-linejoin="round"/><circle cx="361.5" cy="172.9" r="2.5" fill="#f8cec7" stroke="#d0908b" stroke-width="1.05"/><line x1="355.9" y1="180.7" x2="364.5" y2="186.1" stroke="#a8a8a8" stroke-width="1.0" stroke-linecap="round" /><line x1="367.8" y1="187.6" x2="367.8" y2="196.4" stroke="#a8a8a8" stroke-width="1.0" stroke-linecap="round" /><line x1="375.6" y1="192.4" x2="375.6" y2="201.3" stroke="#a8a8a8" stroke-width="1.0" stroke-linecap="round" /><path d="M369.5,192.4 L369.5,187.4 C369.4,184.6 370.8,183.1 373,183.1 C375.2,183.1 376.6,184.6 376.5,187.4 L376.5,192.4 Z" fill="#f8cec7" stroke="#d0908b" stroke-width="1.05" stroke-linejoin="round"/><circle cx="373" cy="179.8" r="2.5" fill="#f8cec7" stroke="#d0908b" stroke-width="1.05"/><line x1="367.4" y1="187.6" x2="376" y2="193" stroke="#a8a8a8" stroke-width="1.0" stroke-linecap="round" /><line x1="379.3" y1="194.5" x2="379.3" y2="203.3" stroke="#a8a8a8" stroke-width="1.0" stroke-linecap="round" /><line x1="387.1" y1="199.3" x2="387.1" y2="208.2" stroke="#a8a8a8" stroke-width="1.0" stroke-linecap="round" /><path d="M381,199.3 L381,194.3 C380.9,191.5 382.3,190 384.5,190 C386.7,190 388.1,191.5 388,194.3 L388,199.3 Z" fill="#f8cec7" stroke="#d0908b" stroke-width="1.05" stroke-linejoin="round"/><circle cx="384.5" cy="186.7" r="2.5" fill="#f8cec7" stroke="#d0908b" stroke-width="1.05"/><line x1="378.9" y1="194.5" x2="387.5" y2="199.9" stroke="#a8a8a8" stroke-width="1.0" stroke-linecap="round" /><line x1="390.8" y1="201.4" x2="390.8" y2="210.2" stroke="#a8a8a8" stroke-width="1.0" stroke-linecap="round" /><line x1="398.6" y1="206.2" x2="398.6" y2="215.1" stroke="#a8a8a8" stroke-width="1.0" stroke-linecap="round" /><path d="M392.5,206.2 L392.5,201.2 C392.4,198.4 393.8,196.9 396,196.9 C398.2,196.9 399.6,198.4 399.5,201.2 L399.5,206.2 Z" fill="#f8cec7" stroke="#d0908b" stroke-width="1.05" stroke-linejoin="round"/><circle cx="396" cy="193.6" r="2.5" fill="#f8cec7" stroke="#d0908b" stroke-width="1.05"/><line x1="390.4" y1="201.4" x2="399" y2="206.8" stroke="#a8a8a8" stroke-width="1.0" stroke-linecap="round" /><line x1="402.3" y1="208.3" x2="402.3" y2="217.1" stroke="#a8a8a8" stroke-width="1.0" stroke-linecap="round" /><line x1="410.1" y1="213.1" x2="410.1" y2="222" stroke="#a8a8a8" stroke-width="1.0" stroke-linecap="round" /><polygon points="410.7,213.9 415.3,211.3 415.3,214.7 410.7,217.3" fill="#f8cec7" stroke="#d0908b" stroke-width="1.0" stroke-linejoin="round" /><line x1="410.7" y1="217.3" x2="410.7" y2="220.8" stroke="#d0908b" stroke-width="1.0" stroke-linecap="round" /><line x1="415.3" y1="214.7" x2="415.3" y2="218.3" stroke="#d0908b" stroke-width="1.0" stroke-linecap="round" /><path d="M404,213.1 L404,208.1 C403.9,205.3 405.3,203.8 407.5,203.8 C409.7,203.8 411.1,205.3 411,208.1 L411,213.1 Z" fill="#f8cec7" stroke="#d0908b" stroke-width="1.05" stroke-linejoin="round"/><circle cx="407.5" cy="200.5" r="2.5" fill="#f8cec7" stroke="#d0908b" stroke-width="1.05"/><line x1="401.9" y1="208.3" x2="410.5" y2="213.7" stroke="#a8a8a8" stroke-width="1.0" stroke-linecap="round" /><line x1="342.6" y1="187.6" x2="342.6" y2="196.4" stroke="#a8a8a8" stroke-width="1.0" stroke-linecap="round" /><line x1="350.4" y1="192.4" x2="350.4" y2="201.3" stroke="#a8a8a8" stroke-width="1.0" stroke-linecap="round" /><path d="M344.3,192.4 L344.3,187.4 C344.2,184.6 345.6,183.1 347.8,183.1 C350,183.1 351.4,184.6 351.3,187.4 L351.3,192.4 Z" fill="#f8cec7" stroke="#d0908b" stroke-width="1.05" stroke-linejoin="round"/><circle cx="347.8" cy="179.8" r="2.5" fill="#f8cec7" stroke="#d0908b" stroke-width="1.05"/><line x1="342.2" y1="187.6" x2="350.8" y2="193" stroke="#a8a8a8" stroke-width="1.0" stroke-linecap="round" /><line x1="354.1" y1="194.5" x2="354.1" y2="203.3" stroke="#a8a8a8" stroke-width="1.0" stroke-linecap="round" /><line x1="361.9" y1="199.3" x2="361.9" y2="208.2" stroke="#a8a8a8" stroke-width="1.0" stroke-linecap="round" /><path d="M355.8,199.3 L355.8,194.3 C355.7,191.5 357.1,190 359.3,190 C361.5,190 362.9,191.5 362.8,194.3 L362.8,199.3 Z" fill="#f8cec7" stroke="#d0908b" stroke-width="1.05" stroke-linejoin="round"/><circle cx="359.3" cy="186.7" r="2.5" fill="#f8cec7" stroke="#d0908b" stroke-width="1.05"/><line x1="353.7" y1="194.5" x2="362.3" y2="199.9" stroke="#a8a8a8" stroke-width="1.0" stroke-linecap="round" /><line x1="365.6" y1="201.4" x2="365.6" y2="210.2" stroke="#a8a8a8" stroke-width="1.0" stroke-linecap="round" /><line x1="373.4" y1="206.2" x2="373.4" y2="215.1" stroke="#a8a8a8" stroke-width="1.0" stroke-linecap="round" /><path d="M367.3,206.2 L367.3,201.2 C367.2,198.4 368.6,196.9 370.8,196.9 C373,196.9 374.4,198.4 374.3,201.2 L374.3,206.2 Z" fill="#f8cec7" stroke="#d0908b" stroke-width="1.05" stroke-linejoin="round"/><circle cx="370.8" cy="193.6" r="2.5" fill="#f8cec7" stroke="#d0908b" stroke-width="1.05"/><line x1="365.2" y1="201.4" x2="373.8" y2="206.8" stroke="#a8a8a8" stroke-width="1.0" stroke-linecap="round" /><line x1="377.1" y1="208.3" x2="377.1" y2="217.1" stroke="#a8a8a8" stroke-width="1.0" stroke-linecap="round" /><line x1="384.9" y1="213.1" x2="384.9" y2="222" stroke="#a8a8a8" stroke-width="1.0" stroke-linecap="round" /><polygon points="385.5,213.9 390.1,211.3 390.1,214.7 385.5,217.3" fill="#f8cec7" stroke="#d0908b" stroke-width="1.0" stroke-linejoin="round" /><line x1="385.5" y1="217.3" x2="385.5" y2="220.8" stroke="#d0908b" stroke-width="1.0" stroke-linecap="round" /><line x1="390.1" y1="214.7" x2="390.1" y2="218.3" stroke="#d0908b" stroke-width="1.0" stroke-linecap="round" /><path d="M378.8,213.1 L378.8,208.1 C378.7,205.3 380.1,203.8 382.3,203.8 C384.5,203.8 385.9,205.3 385.8,208.1 L385.8,213.1 Z" fill="#f8cec7" stroke="#d0908b" stroke-width="1.05" stroke-linejoin="round"/><circle cx="382.3" cy="200.5" r="2.5" fill="#f8cec7" stroke="#d0908b" stroke-width="1.05"/><line x1="376.7" y1="208.3" x2="385.3" y2="213.7" stroke="#a8a8a8" stroke-width="1.0" stroke-linecap="round" /><defs><clipPath id="foyfloor"><polygon points="591.9,146.3 697.9,208.8 609.3,262.2 563.6,233.4 528.2,212.9 528.2,202.5 535,198.3 544.4,203.3 551.8,198.6 528,183.7"/></clipPath></defs><polygon points="591.9,146.3 697.9,208.8 609.3,262.2 563.6,233.4 528.2,212.9 528.2,202.5 535,198.3 544.4,203.3 551.8,198.6 528,183.7" fill="#fbfbfb" stroke="none" stroke-width="0" stroke-linejoin="round" /><g clip-path="url(#foyfloor)"><polygon points="561.9,128.6 741.9,234.7 741.9,244.7 561.9,138.6" fill="#f0f0f0" stroke="none" stroke-width="0" stroke-linejoin="round" /><polygon points="500,155 720,284.7 720,400 500,400" fill="#f0f0f0" stroke="none" stroke-width="0" stroke-linejoin="round" /></g><polygon points="555,124 580,110 580,153" fill="#efefef" stroke="none" stroke-width="0" stroke-linejoin="round" /><polygon points="528,119 591.9,82.1 591.9,146.3 580,153.2 580,112.7 540.2,135.4 540.2,177.3 528,183.7" fill="#e4e4e4" stroke="#8c8c8c" stroke-width="1.35" stroke-linejoin="round" /><line x1="528.2" y1="119.2" x2="540.2" y2="135.4" stroke="none" stroke-width="0" stroke-linecap="round" /><polygon points="591.9,82.1 698.1,143.4 697.9,208.8 591.9,146.3" fill="#efefef" stroke="#8c8c8c" stroke-width="1.35" stroke-linejoin="round" /><polygon points="695.5,142 698.1,143.4 697.9,208.8 695.5,207.4" fill="#e2e2e2" stroke="none" stroke-width="0" stroke-linejoin="round" /><line x1="695.5" y1="142.5" x2="695.5" y2="207" stroke="#cfcfcf" stroke-width="0.8" stroke-linecap="round" /><polygon points="591.9,82.1 698.1,143.4 697.9,208.8 591.9,146.3" fill="none" stroke="#8c8c8c" stroke-width="1.35" stroke-linejoin="round" /><defs><clipPath id="foyscr"><polygon points="605,100.8 682,145.2 682,190.8 605,146.4"/></clipPath></defs><polygon points="605,100.8 682,145.2 682,190.8 605,146.4" fill="#a6daf1" stroke="none" stroke-width="0" stroke-linejoin="round" /><g clip-path="url(#foyscr)"><polygon points="605,137 682,172 682,195 605,150" fill="#89c1dd" stroke="none" stroke-width="0" stroke-linejoin="round" /><path d="M611,141 L611,133 L615,133 L615,138 L618,137 L618,133 L622,133 Q627,133 628,139 L628,150 Z" fill="#89c1dd"/><line x1="613" y1="117" x2="627" y2="124.5" stroke="#d3effb" stroke-width="2.6" stroke-linecap="round" /><circle cx="634" cy="138" r="1.5" fill="#89c1dd"/><circle cx="647.3" cy="139.5" r="3.6" fill="#89c1dd"/><path d="M642.5,147 Q643,143.5 646.5,143.8 L649.5,144.5 Q651.5,145.5 651,149 L650.5,155 L646.5,156.5 L643,155 Z" fill="#89c1dd"/><line x1="650" y1="147" x2="656.5" y2="149.5" stroke="#89c1dd" stroke-width="2.4" stroke-linecap="round" /><line x1="645.5" y1="155" x2="641" y2="162" stroke="#89c1dd" stroke-width="2.8" stroke-linecap="round" /><line x1="649" y1="155" x2="651.5" y2="163" stroke="#89c1dd" stroke-width="2.8" stroke-linecap="round" /><path d="M643.5,137.8 Q647.3,133.3 651.1,137.8 Z" fill="#d4effb"/><path d="M660,176 L660,157.7 L665.5,157.7 L665.5,147.3 L674.4,147.3 L674.4,180 Z" fill="#89c1dd"/><rect x="667.8" y="150" width="2.4" height="15" fill="#b3e0f3"/></g><polygon points="605,100.8 682,145.2 682,190.8 605,146.4" fill="none" stroke="#476c84" stroke-width="1.5" stroke-linejoin="round" /><polyline points="563.6,233.4 609.3,262.2 697.9,208.8" fill="none" stroke="#8c8c8c" stroke-width="1.35" stroke-linejoin="round"/><polyline points="528,183.7 551.8,198.6 544.4,203.3" fill="none" stroke="#8c8c8c" stroke-width="1.35" stroke-linejoin="round"/><line x1="591.9" y1="146.3" x2="697.9" y2="208.8" stroke="#8c8c8c" stroke-width="1.35" stroke-linecap="round" /><polygon points="528.2,202.5 535,198.3 570.2,219.7 563.6,223.7" fill="#efefef" stroke="#8c8c8c" stroke-width="1.4" stroke-linejoin="round" /><polygon points="528.2,202.5 563.6,223.7 563.6,233.4 528.2,212.9" fill="#dcdcdc" stroke="#8c8c8c" stroke-width="1.4" stroke-linejoin="round" /><polygon points="563.6,223.7 570.2,219.7 570.2,229 563.6,233.4" fill="#e9e9e9" stroke="#8c8c8c" stroke-width="1.4" stroke-linejoin="round" /><g transform="translate(559.5,164.8) scale(0.96,0.88) translate(-559.5,-164.8)"><path d="M557.8,177.5 L557.8,184.7 L561.2,184.7 L561.2,177.5 C562.4,177.4 563.1,176.5 563.1,175 L563.1,172.1 C563.1,169.7 561.6,168.1 559.5,168.1 C557.4,168.1 555.9,169.7 555.9,172.1 L555.9,175 C555.9,176.5 556.6,177.4 557.8,177.5 Z" fill="#f8cec7" stroke="#c07a75" stroke-width="1.15" stroke-linejoin="round"/><line x1="559.5" y1="179.2" x2="559.5" y2="184.7" stroke="#c07a75" stroke-width="0.9"/><circle cx="559.5" cy="164.8" r="2.5" fill="#f8cec7" stroke="#c07a75" stroke-width="1.15"/></g><g transform="translate(584.2,163) scale(0.96,0.88) translate(-584.2,-163)"><path d="M582.5,175.7 L582.5,182.9 L585.9,182.9 L585.9,175.7 C587.1,175.6 587.8,174.7 587.8,173.2 L587.8,170.3 C587.8,167.9 586.3,166.3 584.2,166.3 C582.1,166.3 580.6,167.9 580.6,170.3 L580.6,173.2 C580.6,174.7 581.3,175.6 582.5,175.7 Z" fill="#f8cec7" stroke="#c07a75" stroke-width="1.15" stroke-linejoin="round"/><line x1="584.2" y1="177.4" x2="584.2" y2="182.9" stroke="#c07a75" stroke-width="0.9"/><circle cx="584.2" cy="163" r="2.5" fill="#f8cec7" stroke="#c07a75" stroke-width="1.15"/></g><g transform="translate(606.3,175.2) scale(0.96,0.88) translate(-606.3,-175.2)"><path d="M604.6,187.9 L604.6,195.1 L608,195.1 L608,187.9 C609.2,187.8 609.9,186.9 609.9,185.4 L609.9,182.5 C609.9,180.1 608.4,178.5 606.3,178.5 C604.2,178.5 602.7,180.1 602.7,182.5 L602.7,185.4 C602.7,186.9 603.4,187.8 604.6,187.9 Z" fill="#f8cec7" stroke="#c07a75" stroke-width="1.15" stroke-linejoin="round"/><line x1="606.3" y1="189.6" x2="606.3" y2="195.1" stroke="#c07a75" stroke-width="0.9"/><circle cx="606.3" cy="175.2" r="2.5" fill="#f8cec7" stroke="#c07a75" stroke-width="1.15"/></g><g transform="translate(616,178) scale(0.96,0.88) translate(-616,-178)"><path d="M614.3,190.7 L614.3,197.9 L617.7,197.9 L617.7,190.7 C618.9,190.6 619.6,189.7 619.6,188.2 L619.6,185.3 C619.6,182.9 618.1,181.3 616,181.3 C613.9,181.3 612.4,182.9 612.4,185.3 L612.4,188.2 C612.4,189.7 613.1,190.6 614.3,190.7 Z" fill="#f8cec7" stroke="#c07a75" stroke-width="1.15" stroke-linejoin="round"/><line x1="616" y1="192.4" x2="616" y2="197.9" stroke="#c07a75" stroke-width="0.9"/><circle cx="616" cy="178" r="2.5" fill="#f8cec7" stroke="#c07a75" stroke-width="1.15"/></g><g transform="translate(626,181.3) scale(0.96,0.88) translate(-626,-181.3)"><path d="M624.3,194 L624.3,201.2 L627.7,201.2 L627.7,194 C628.9,193.9 629.6,193 629.6,191.5 L629.6,188.6 C629.6,186.2 628.1,184.6 626,184.6 C623.9,184.6 622.4,186.2 622.4,188.6 L622.4,191.5 C622.4,193 623.1,193.9 624.3,194 Z" fill="#f8cec7" stroke="#c07a75" stroke-width="1.15" stroke-linejoin="round"/><line x1="626" y1="195.7" x2="626" y2="201.2" stroke="#c07a75" stroke-width="0.9"/><circle cx="626" cy="181.3" r="2.5" fill="#f8cec7" stroke="#c07a75" stroke-width="1.15"/></g><g transform="translate(574.1,187.5) scale(0.96,0.88) translate(-574.1,-187.5)"><path d="M572.4,200.2 L572.4,207.4 L575.8,207.4 L575.8,200.2 C577,200.1 577.7,199.2 577.7,197.7 L577.7,194.8 C577.7,192.4 576.2,190.8 574.1,190.8 C572,190.8 570.5,192.4 570.5,194.8 L570.5,197.7 C570.5,199.2 571.2,200.1 572.4,200.2 Z" fill="#f8cec7" stroke="#c07a75" stroke-width="1.15" stroke-linejoin="round"/><line x1="574.1" y1="201.9" x2="574.1" y2="207.4" stroke="#c07a75" stroke-width="0.9"/><circle cx="574.1" cy="187.5" r="2.5" fill="#f8cec7" stroke="#c07a75" stroke-width="1.15"/></g><g transform="translate(590.2,201.2) scale(0.96,0.88) translate(-590.2,-201.2)"><path d="M588.5,213.9 L588.5,221.1 L591.9,221.1 L591.9,213.9 C593.1,213.8 593.8,212.9 593.8,211.4 L593.8,208.5 C593.8,206.1 592.3,204.5 590.2,204.5 C588.1,204.5 586.6,206.1 586.6,208.5 L586.6,211.4 C586.6,212.9 587.3,213.8 588.5,213.9 Z" fill="#f8cec7" stroke="#c07a75" stroke-width="1.15" stroke-linejoin="round"/><line x1="590.2" y1="215.6" x2="590.2" y2="221.1" stroke="#c07a75" stroke-width="0.9"/><circle cx="590.2" cy="201.2" r="2.5" fill="#f8cec7" stroke="#c07a75" stroke-width="1.15"/></g><g transform="translate(649.6,200.8) scale(0.96,0.88) translate(-649.6,-200.8)"><path d="M647.9,213.6 L647.9,220.7 L651.3,220.7 L651.3,213.6 L653.9,213.6 C654.7,213.4 654.5,211.6 653.9,209.6 C653.4,207.3 653.2,204.2 649.6,204.1 C646,204.2 645.8,207.3 645.3,209.6 C644.7,211.6 644.5,213.4 645.3,213.6 Z" fill="#f8cec7" stroke="#c07a75" stroke-width="1.15" stroke-linejoin="round"/><line x1="649.6" y1="215.2" x2="649.6" y2="220.7" stroke="#c07a75" stroke-width="0.9"/><circle cx="649.6" cy="200.8" r="2.5" fill="#f8cec7" stroke="#c07a75" stroke-width="1.15"/></g><g transform="translate(661.3,200.8) scale(0.96,0.88) translate(-661.3,-200.8)"><path d="M659.6,213.5 L659.6,220.7 L663,220.7 L663,213.5 C664.2,213.4 664.9,212.5 664.9,211 L664.9,208.1 C664.9,205.7 663.4,204.1 661.3,204.1 C659.2,204.1 657.7,205.7 657.7,208.1 L657.7,211 C657.7,212.5 658.4,213.4 659.6,213.5 Z" fill="#f8cec7" stroke="#c07a75" stroke-width="1.15" stroke-linejoin="round"/><line x1="661.3" y1="215.2" x2="661.3" y2="220.7" stroke="#c07a75" stroke-width="0.9"/><circle cx="661.3" cy="200.8" r="2.5" fill="#f8cec7" stroke="#c07a75" stroke-width="1.15"/></g><g transform="translate(627.5,212.9) scale(0.96,0.88) translate(-627.5,-212.9)"><path d="M625.8,225.6 L625.8,232.8 L629.2,232.8 L629.2,225.6 C630.4,225.5 631.1,224.6 631.1,223.1 L631.1,220.2 C631.1,217.8 629.6,216.2 627.5,216.2 C625.4,216.2 623.9,217.8 623.9,220.2 L623.9,223.1 C623.9,224.6 624.6,225.5 625.8,225.6 Z" fill="#f8cec7" stroke="#c07a75" stroke-width="1.15" stroke-linejoin="round"/><line x1="627.5" y1="227.3" x2="627.5" y2="232.8" stroke="#c07a75" stroke-width="0.9"/><circle cx="627.5" cy="212.9" r="2.5" fill="#f8cec7" stroke="#c07a75" stroke-width="1.15"/></g><g transform="translate(596,227.4) scale(0.96,0.88) translate(-596,-227.4)"><path d="M594.3,240.1 L594.3,247.3 L597.7,247.3 L597.7,240.1 C598.9,240 599.6,239.1 599.6,237.6 L599.6,234.7 C599.6,232.3 598.1,230.7 596,230.7 C593.9,230.7 592.4,232.3 592.4,234.7 L592.4,237.6 C592.4,239.1 593.1,240 594.3,240.1 Z" fill="#f8cec7" stroke="#c07a75" stroke-width="1.15" stroke-linejoin="round"/><line x1="596" y1="241.8" x2="596" y2="247.3" stroke="#c07a75" stroke-width="0.9"/><circle cx="596" cy="227.4" r="2.5" fill="#f8cec7" stroke="#c07a75" stroke-width="1.15"/></g><g transform="translate(607.7,221.5) scale(0.96,0.88) translate(-607.7,-221.5)"><path d="M606,234.3 L606,241.4 L609.4,241.4 L609.4,234.3 L612,234.3 C612.8,234.1 612.6,232.3 612,230.3 C611.5,228 611.3,224.9 607.7,224.8 C604.1,224.9 603.9,228 603.4,230.3 C602.8,232.3 602.6,234.1 603.4,234.3 Z" fill="#f8cec7" stroke="#c07a75" stroke-width="1.15" stroke-linejoin="round"/><line x1="607.7" y1="235.9" x2="607.7" y2="241.4" stroke="#c07a75" stroke-width="0.9"/><circle cx="607.7" cy="221.5" r="2.5" fill="#f8cec7" stroke="#c07a75" stroke-width="1.15"/></g><polygon points="267.5,445.5 276.6,440.6 300,432 320,425 329,430 345,441 360,444.5 369,449.5 354,458 348,453.5 335,448.5 323.5,447.5 316.5,444 308,439.5 290,449.5 282.5,454" fill="#e0e0e0" stroke="#7d7d7d" stroke-width="1.3" stroke-linejoin="round" /><polygon points="277.8,433 289.4,439.5 289.4,450.5 277.8,445.3" fill="#e8e8e8" stroke="#7d7d7d" stroke-width="1.3" stroke-linejoin="round" /><polygon points="289.4,439.5 296,436 296,446.8 289.4,450.5" fill="#d9d9d9" stroke="#7d7d7d" stroke-width="1.3" stroke-linejoin="round" /><polygon points="308.5,420 320,414 320,438.5 308.5,444" fill="#e8e8e8" stroke="#7d7d7d" stroke-width="1.3" stroke-linejoin="round" /><polygon points="320,414 324,416 324,440.5 320,438.5" fill="#d6d6d6" stroke="#7d7d7d" stroke-width="1.3" stroke-linejoin="round" /><polygon points="348.5,434 359,428 359,447.5 348.5,453.5" fill="#e8e8e8" stroke="#7d7d7d" stroke-width="1.3" stroke-linejoin="round" /><polygon points="341,430 348.5,434 348.5,453.5 341,449.5" fill="#d9d9d9" stroke="#7d7d7d" stroke-width="1.3" stroke-linejoin="round" /><polygon points="293.9,364.1 303.5,368.9 303.5,427 293.9,422" fill="#e2e2e2" stroke="#7d7d7d" stroke-width="1.3" stroke-linejoin="round" /><polygon points="303.5,368.9 339.2,348.1 339.2,406 303.5,427" fill="#f3f3f3" stroke="#7d7d7d" stroke-width="1.3" stroke-linejoin="round" /><polygon points="293.9,364.1 329.6,342.3 339.2,348.1 303.5,368.9" fill="#eaeaea" stroke="#7d7d7d" stroke-width="1.3" stroke-linejoin="round" /><defs><clipPath id="kscr1"><polygon points="307.3,370.5 335,356 335,408.4 307.3,420.8"/></clipPath></defs><polygon points="307.3,370.5 335,356 335,408.4 307.3,420.8" fill="#a5d5ec" stroke="none" stroke-width="0" stroke-linejoin="round" /><g clip-path="url(#kscr1)"><polygon points="307.3,389.1 312.8,390.2 318.1,390 321.1,377.3 324.8,386.5 329.5,383 330.8,378.3 332.8,379.8 335,381.1 335,406.3 307.3,420.8" fill="#8ec3de"/><polygon points="311.5,398.5 315.6,394.3 318.4,397.9 314.2,402.6" fill="#bde3f4"/><polygon points="308.7,394.9 312.8,392.8 314.2,394.5 310.1,397.2" fill="#a9d6ec"/></g><polygon points="307.3,370.5 335,356 335,408.4 307.3,420.8" fill="none" stroke="#56707f" stroke-width="1.2" stroke-linejoin="round" /><polygon points="294,383.3 300.2,379.8 300.2,436.5 294,440" fill="#e2e2e2" stroke="#7d7d7d" stroke-width="1.3" stroke-linejoin="round" /><polygon points="254.8,361.8 294,383.3 294,440 254.8,418.7" fill="#f3f3f3" stroke="#7d7d7d" stroke-width="1.3" stroke-linejoin="round" /><polygon points="254.8,361.8 262.9,357.5 300.2,379.8 294,383.3" fill="#eaeaea" stroke="#7d7d7d" stroke-width="1.3" stroke-linejoin="round" /><defs><clipPath id="kscr2"><polygon points="258.4,368.4 289.8,386 289.8,434 258.4,417.5"/></clipPath></defs><polygon points="258.4,368.4 289.8,386 289.8,434 258.4,417.5" fill="#a5d5ec" stroke="none" stroke-width="0" stroke-linejoin="round" /><g clip-path="url(#kscr2)"><polygon points="262.2,386.2 273.2,390.4 273.2,407.1 262.2,402.9" fill="#8ec3de"/><polygon points="258.4,403.8 289.8,418.4 289.8,435.1 258.4,417.5" fill="#8ec3de"/><polygon points="274.1,391.9 289.8,400.7 289.8,418.4 274.1,406.7" fill="#96c9e2"/><polygon points="260,399.7 262.2,401 262.2,404.9 271,409.8 271,405.9 273.2,407.1 273.2,415 260,407.6" fill="#bde3f4"/><polygon points="275,387.5 285.1,393.2 285.1,398.1 278.8,394.6 278.8,398.5 288.2,403.8 288.2,412.1 281.9,408.6 281.9,405.2 275,401.3" fill="#bde3f4"/></g><polygon points="258.4,368.4 289.8,386 289.8,434 258.4,417.5" fill="none" stroke="#56707f" stroke-width="1.2" stroke-linejoin="round" /><polygon points="329.7,394.3 337.7,398.3 337.7,439.7 329.7,435.5" fill="#e2e2e2" stroke="#7d7d7d" stroke-width="1.3" stroke-linejoin="round" /><polygon points="337.7,398.3 375.7,375 375.7,418.3 337.7,439.7" fill="#f3f3f3" stroke="#7d7d7d" stroke-width="1.3" stroke-linejoin="round" /><polygon points="329.7,394.3 368.3,370.3 375.7,375 337.7,398.3" fill="#eaeaea" stroke="#7d7d7d" stroke-width="1.3" stroke-linejoin="round" /><defs><clipPath id="kscr3"><polygon points="341.4,402 372.5,385.2 372.5,415.6 341.4,432.6"/></clipPath></defs><polygon points="341.4,402 372.5,385.2 372.5,415.6 341.4,432.6" fill="#92c6e1" stroke="none" stroke-width="0" stroke-linejoin="round" /><g clip-path="url(#kscr3)"><polygon points="347.6,409.4 354.5,405.7 354.5,413.9 347.6,417.6" fill="#b5ddf0"/><polygon points="358.5,397.4 366.9,392.8 366.9,406.6 363.8,408.3 363.8,400.6 361.3,402 361.3,409.6 358.5,411.1" fill="#b5ddf0"/><polygon points="345.1,423.9 350.7,419 354.5,419.4 348.2,425.8" fill="#b5ddf0"/></g><polygon points="341.4,402 372.5,385.2 372.5,415.6 341.4,432.6" fill="none" stroke="#56707f" stroke-width="1.2" stroke-linejoin="round" /><g><path d="M238.3,422.9 L238.3,430.1 L241.7,430.1 L241.7,422.9 C242.9,422.8 243.6,421.9 243.6,420.4 L243.6,417.5 C243.6,415.1 242.1,413.5 240,413.5 C237.9,413.5 236.4,415.1 236.4,417.5 L236.4,420.4 C236.4,421.9 237.1,422.8 238.3,422.9 Z" fill="#f8cec7" stroke="#c07a75" stroke-width="1.15" stroke-linejoin="round"/><line x1="240" y1="424.6" x2="240" y2="430.1" stroke="#c07a75" stroke-width="0.9"/><circle cx="240" cy="410.2" r="2.5" fill="#f8cec7" stroke="#c07a75" stroke-width="1.15"/></g><g><path d="M248.5,445.7 L248.5,452.9 L251.9,452.9 L251.9,445.7 C253.1,445.6 253.8,444.7 253.8,443.2 L253.8,440.3 C253.8,437.9 252.3,436.3 250.2,436.3 C248.1,436.3 246.6,437.9 246.6,440.3 L246.6,443.2 C246.6,444.7 247.3,445.6 248.5,445.7 Z" fill="#f8cec7" stroke="#c07a75" stroke-width="1.15" stroke-linejoin="round"/><line x1="250.2" y1="447.4" x2="250.2" y2="452.9" stroke="#c07a75" stroke-width="0.9"/><circle cx="250.2" cy="433" r="2.5" fill="#f8cec7" stroke="#c07a75" stroke-width="1.15"/></g><g><path d="M261.3,468.9 L261.3,476.1 L264.7,476.1 L264.7,468.9 C265.9,468.8 266.6,467.9 266.6,466.4 L266.6,463.5 C266.6,461.1 265.1,459.5 263,459.5 C260.9,459.5 259.4,461.1 259.4,463.5 L259.4,466.4 C259.4,467.9 260.1,468.8 261.3,468.9 Z" fill="#f8cec7" stroke="#c07a75" stroke-width="1.15" stroke-linejoin="round"/><line x1="263" y1="470.6" x2="263" y2="476.1" stroke="#c07a75" stroke-width="0.9"/><circle cx="263" cy="456.2" r="2.5" fill="#f8cec7" stroke="#c07a75" stroke-width="1.15"/></g><g><path d="M300.4,465.2 L300.4,472.4 L303.8,472.4 L303.8,465.2 C305,465.1 305.7,464.2 305.7,462.7 L305.7,459.8 C305.7,457.4 304.2,455.8 302.1,455.8 C300,455.8 298.5,457.4 298.5,459.8 L298.5,462.7 C298.5,464.2 299.2,465.1 300.4,465.2 Z" fill="#f8cec7" stroke="#c07a75" stroke-width="1.15" stroke-linejoin="round"/><line x1="302.1" y1="466.9" x2="302.1" y2="472.4" stroke="#c07a75" stroke-width="0.9"/><circle cx="302.1" cy="452.5" r="2.5" fill="#f8cec7" stroke="#c07a75" stroke-width="1.15"/></g><g><path d="M318.5,457.1 L318.5,464.3 L321.9,464.3 L321.9,457.1 C323.1,457 323.8,456.1 323.8,454.6 L323.8,451.7 C323.8,449.3 322.3,447.7 320.2,447.7 C318.1,447.7 316.6,449.3 316.6,451.7 L316.6,454.6 C316.6,456.1 317.3,457 318.5,457.1 Z" fill="#f8cec7" stroke="#c07a75" stroke-width="1.15" stroke-linejoin="round"/><line x1="320.2" y1="458.8" x2="320.2" y2="464.3" stroke="#c07a75" stroke-width="0.9"/><circle cx="320.2" cy="444.4" r="2.5" fill="#f8cec7" stroke="#c07a75" stroke-width="1.15"/></g><g><path d="M312,479.4 L312,486.6 L315.4,486.6 L315.4,479.4 C316.6,479.3 317.3,478.4 317.3,476.9 L317.3,474 C317.3,471.6 315.8,470 313.7,470 C311.6,470 310.1,471.6 310.1,474 L310.1,476.9 C310.1,478.4 310.8,479.3 312,479.4 Z" fill="#f8cec7" stroke="#c07a75" stroke-width="1.15" stroke-linejoin="round"/><line x1="313.7" y1="481.1" x2="313.7" y2="486.6" stroke="#c07a75" stroke-width="0.9"/><circle cx="313.7" cy="466.7" r="2.5" fill="#f8cec7" stroke="#c07a75" stroke-width="1.15"/></g><g><path d="M332.1,471.5 L332.1,478.7 L335.5,478.7 L335.5,471.5 C336.7,471.4 337.4,470.5 337.4,469 L337.4,466.1 C337.4,463.7 335.9,462.1 333.8,462.1 C331.7,462.1 330.2,463.7 330.2,466.1 L330.2,469 C330.2,470.5 330.9,471.4 332.1,471.5 Z" fill="#f8cec7" stroke="#c07a75" stroke-width="1.15" stroke-linejoin="round"/><line x1="333.8" y1="473.2" x2="333.8" y2="478.7" stroke="#c07a75" stroke-width="0.9"/><circle cx="333.8" cy="458.8" r="2.5" fill="#f8cec7" stroke="#c07a75" stroke-width="1.15"/></g><g><path d="M367.9,471.7 L367.9,478.9 L371.3,478.9 L371.3,471.7 C372.5,471.6 373.2,470.7 373.2,469.2 L373.2,466.3 C373.2,463.9 371.7,462.3 369.6,462.3 C367.5,462.3 366,463.9 366,466.3 L366,469.2 C366,470.7 366.7,471.6 367.9,471.7 Z" fill="#f8cec7" stroke="#c07a75" stroke-width="1.15" stroke-linejoin="round"/><line x1="369.6" y1="473.4" x2="369.6" y2="478.9" stroke="#c07a75" stroke-width="0.9"/><circle cx="369.6" cy="459" r="2.5" fill="#f8cec7" stroke="#c07a75" stroke-width="1.15"/></g><g><path d="M378.6,442.2 L378.6,449.4 L382,449.4 L382,442.2 C383.2,442.1 383.9,441.2 383.9,439.7 L383.9,436.8 C383.9,434.4 382.4,432.8 380.3,432.8 C378.2,432.8 376.7,434.4 376.7,436.8 L376.7,439.7 C376.7,441.2 377.4,442.1 378.6,442.2 Z" fill="#f8cec7" stroke="#c07a75" stroke-width="1.15" stroke-linejoin="round"/><line x1="380.3" y1="443.9" x2="380.3" y2="449.4" stroke="#c07a75" stroke-width="0.9"/><circle cx="380.3" cy="429.5" r="2.5" fill="#f8cec7" stroke="#c07a75" stroke-width="1.15"/></g><g><path d="M390,425 L390,432.2 L393.4,432.2 L393.4,425 C394.6,424.9 395.3,424 395.3,422.5 L395.3,419.6 C395.3,417.2 393.8,415.6 391.7,415.6 C389.6,415.6 388.1,417.2 388.1,419.6 L388.1,422.5 C388.1,424 388.8,424.9 390,425 Z" fill="#f8cec7" stroke="#c07a75" stroke-width="1.15" stroke-linejoin="round"/><line x1="391.7" y1="426.7" x2="391.7" y2="432.2" stroke="#c07a75" stroke-width="0.9"/><circle cx="391.7" cy="412.3" r="2.5" fill="#f8cec7" stroke="#c07a75" stroke-width="1.15"/></g><g><path d="M401.2,438.3 L401.2,445.5 L404.6,445.5 L404.6,438.3 C405.8,438.2 406.5,437.3 406.5,435.8 L406.5,432.9 C406.5,430.5 405,428.9 402.9,428.9 C400.8,428.9 399.3,430.5 399.3,432.9 L399.3,435.8 C399.3,437.3 400,438.2 401.2,438.3 Z" fill="#f8cec7" stroke="#c07a75" stroke-width="1.15" stroke-linejoin="round"/><line x1="402.9" y1="440" x2="402.9" y2="445.5" stroke="#c07a75" stroke-width="0.9"/><circle cx="402.9" cy="425.6" r="2.5" fill="#f8cec7" stroke="#c07a75" stroke-width="1.15"/></g><g><path d="M391.4,458.2 L391.4,465.4 L394.8,465.4 L394.8,458.2 C396,458.1 396.7,457.2 396.7,455.7 L396.7,452.8 C396.7,450.4 395.2,448.8 393.1,448.8 C391,448.8 389.5,450.4 389.5,452.8 L389.5,455.7 C389.5,457.2 390.2,458.1 391.4,458.2 Z" fill="#f8cec7" stroke="#c07a75" stroke-width="1.15" stroke-linejoin="round"/><line x1="393.1" y1="459.9" x2="393.1" y2="465.4" stroke="#c07a75" stroke-width="0.9"/><circle cx="393.1" cy="445.5" r="2.5" fill="#f8cec7" stroke="#c07a75" stroke-width="1.15"/></g><polygon points="524.8,357.1 590.6,394.7 590.6,438.6 524.8,401.5" fill="#ececec" stroke="#7a7a7a" stroke-width="1.5" stroke-linejoin="round" /><defs><clipPath id="fesscr"><polygon points="529,366 586.4,399 586.4,429.3 529,396.4"/></clipPath></defs><polygon points="529,366 586.4,399 586.4,429.3 529,396.4" fill="#a6daf1" stroke="none" stroke-width="0" stroke-linejoin="round" /><g clip-path="url(#fesscr)"><polygon points="526.1,385 537,391.3 537,377.3 543.2,380.9 543.2,391.8 548.5,394.9 548.5,390.9 560.6,397.8 560.6,392.1 568,396.3 568,402.7 571.2,404.5 571.2,394.8 579.9,399.8 579.9,414.1 589.3,419.5 589.3,432.6 526.1,396.3" fill="#90c5df"/><polygon points="529,391.8 589.3,426.5 589.3,432.6 529,397.9" fill="#88bfdb"/><polygon points="557.7,400.7 563.4,404 563.4,406.5 560.6,404.8 560.6,406.9 557.7,405.3" fill="#b6dff1"/><polygon points="550.8,397.4 555.4,400 555.4,403.1 550.8,400.4" fill="#b0dcf0"/><polygon points="574.3,404.2 577.2,405.9 577.2,410.7 574.3,409.1" fill="#b6dff1"/></g><polygon points="529,366 586.4,399 586.4,429.3 529,396.4" fill="none" stroke="#5f7f93" stroke-width="1.2" stroke-linejoin="round" /><g><path d="M452.3,426.5 L452.3,433.7 L455.7,433.7 L455.7,426.5 C456.9,426.4 457.6,425.5 457.6,424 L457.6,421.1 C457.6,418.7 456.1,417.1 454,417.1 C451.9,417.1 450.4,418.7 450.4,421.1 L450.4,424 C450.4,425.5 451.1,426.4 452.3,426.5 Z" fill="#f8cec7" stroke="#c07a75" stroke-width="1.15" stroke-linejoin="round"/><line x1="454" y1="428.2" x2="454" y2="433.7" stroke="#c07a75" stroke-width="0.9"/><circle cx="454" cy="413.8" r="2.5" fill="#f8cec7" stroke="#c07a75" stroke-width="1.15"/></g><g><path d="M484.7,415.7 L484.7,422.9 L488.1,422.9 L488.1,415.7 C489.3,415.6 490,414.7 490,413.2 L490,410.3 C490,407.9 488.5,406.3 486.4,406.3 C484.3,406.3 482.8,407.9 482.8,410.3 L482.8,413.2 C482.8,414.7 483.5,415.6 484.7,415.7 Z" fill="#f8cec7" stroke="#c07a75" stroke-width="1.15" stroke-linejoin="round"/><line x1="486.4" y1="417.4" x2="486.4" y2="422.9" stroke="#c07a75" stroke-width="0.9"/><circle cx="486.4" cy="403" r="2.5" fill="#f8cec7" stroke="#c07a75" stroke-width="1.15"/></g><g><path d="M502.7,416.4 L502.7,423.6 L506.1,423.6 L506.1,416.4 C507.3,416.3 508,415.4 508,413.9 L508,411 C508,408.6 506.5,407 504.4,407 C502.3,407 500.8,408.6 500.8,411 L500.8,413.9 C500.8,415.4 501.5,416.3 502.7,416.4 Z" fill="#f8cec7" stroke="#c07a75" stroke-width="1.15" stroke-linejoin="round"/><line x1="504.4" y1="418.1" x2="504.4" y2="423.6" stroke="#c07a75" stroke-width="0.9"/><circle cx="504.4" cy="403.7" r="2.5" fill="#f8cec7" stroke="#c07a75" stroke-width="1.15"/></g><g><path d="M472.3,442.7 L472.3,449.9 L475.7,449.9 L475.7,442.7 C476.9,442.6 477.6,441.7 477.6,440.2 L477.6,437.3 C477.6,434.9 476.1,433.3 474,433.3 C471.9,433.3 470.4,434.9 470.4,437.3 L470.4,440.2 C470.4,441.7 471.1,442.6 472.3,442.7 Z" fill="#f8cec7" stroke="#c07a75" stroke-width="1.15" stroke-linejoin="round"/><line x1="474" y1="444.4" x2="474" y2="449.9" stroke="#c07a75" stroke-width="0.9"/><circle cx="474" cy="430" r="2.5" fill="#f8cec7" stroke="#c07a75" stroke-width="1.15"/></g><g><path d="M518.7,433.7 L518.7,440.9 L522.1,440.9 L522.1,433.7 C523.3,433.6 524,432.7 524,431.2 L524,428.3 C524,425.9 522.5,424.3 520.4,424.3 C518.3,424.3 516.8,425.9 516.8,428.3 L516.8,431.2 C516.8,432.7 517.5,433.6 518.7,433.7 Z" fill="#f8cec7" stroke="#c07a75" stroke-width="1.15" stroke-linejoin="round"/><line x1="520.4" y1="435.4" x2="520.4" y2="440.9" stroke="#c07a75" stroke-width="0.9"/><circle cx="520.4" cy="421" r="2.5" fill="#f8cec7" stroke="#c07a75" stroke-width="1.15"/></g><g><path d="M498.8,451.7 L498.8,458.9 L502.2,458.9 L502.2,451.7 C503.4,451.6 504.1,450.7 504.1,449.2 L504.1,446.3 C504.1,443.9 502.6,442.3 500.5,442.3 C498.4,442.3 496.9,443.9 496.9,446.3 L496.9,449.2 C496.9,450.7 497.6,451.6 498.8,451.7 Z" fill="#f8cec7" stroke="#c07a75" stroke-width="1.15" stroke-linejoin="round"/><line x1="500.5" y1="453.4" x2="500.5" y2="458.9" stroke="#c07a75" stroke-width="0.9"/><circle cx="500.5" cy="439" r="2.5" fill="#f8cec7" stroke="#c07a75" stroke-width="1.15"/></g><g><path d="M536.7,443.2 L536.7,450.4 L540.1,450.4 L540.1,443.2 C541.3,443.1 542,442.2 542,440.7 L542,437.8 C542,435.4 540.5,433.8 538.4,433.8 C536.3,433.8 534.8,435.4 534.8,437.8 L534.8,440.7 C534.8,442.2 535.5,443.1 536.7,443.2 Z" fill="#f8cec7" stroke="#c07a75" stroke-width="1.15" stroke-linejoin="round"/><line x1="538.4" y1="444.9" x2="538.4" y2="450.4" stroke="#c07a75" stroke-width="0.9"/><circle cx="538.4" cy="430.5" r="2.5" fill="#f8cec7" stroke="#c07a75" stroke-width="1.15"/></g><g><path d="M559.9,451 L559.9,458.2 L563.3,458.2 L563.3,451 C564.5,450.9 565.2,450 565.2,448.5 L565.2,445.6 C565.2,443.2 563.7,441.6 561.6,441.6 C559.5,441.6 558,443.2 558,445.6 L558,448.5 C558,450 558.7,450.9 559.9,451 Z" fill="#f8cec7" stroke="#c07a75" stroke-width="1.15" stroke-linejoin="round"/><line x1="561.6" y1="452.7" x2="561.6" y2="458.2" stroke="#c07a75" stroke-width="0.9"/><circle cx="561.6" cy="438.3" r="2.5" fill="#f8cec7" stroke="#c07a75" stroke-width="1.15"/></g><g><path d="M454.3,467.2 L454.3,474.4 L457.7,474.4 L457.7,467.2 C458.9,467.1 459.6,466.2 459.6,464.7 L459.6,461.8 C459.6,459.4 458.1,457.8 456,457.8 C453.9,457.8 452.4,459.4 452.4,461.8 L452.4,464.7 C452.4,466.2 453.1,467.1 454.3,467.2 Z" fill="#f8cec7" stroke="#c07a75" stroke-width="1.15" stroke-linejoin="round"/><line x1="456" y1="468.9" x2="456" y2="474.4" stroke="#c07a75" stroke-width="0.9"/><circle cx="456" cy="454.5" r="2.5" fill="#f8cec7" stroke="#c07a75" stroke-width="1.15"/></g><g><path d="M484.7,476.2 L484.7,483.4 L488.1,483.4 L488.1,476.2 C489.3,476.1 490,475.2 490,473.7 L490,470.8 C490,468.4 488.5,466.8 486.4,466.8 C484.3,466.8 482.8,468.4 482.8,470.8 L482.8,473.7 C482.8,475.2 483.5,476.1 484.7,476.2 Z" fill="#f8cec7" stroke="#c07a75" stroke-width="1.15" stroke-linejoin="round"/><line x1="486.4" y1="477.9" x2="486.4" y2="483.4" stroke="#c07a75" stroke-width="0.9"/><circle cx="486.4" cy="463.5" r="2.5" fill="#f8cec7" stroke="#c07a75" stroke-width="1.15"/></g><g><path d="M514.3,474.9 L514.3,482.1 L517.7,482.1 L517.7,474.9 C518.9,474.8 519.6,473.9 519.6,472.4 L519.6,469.5 C519.6,467.1 518.1,465.5 516,465.5 C513.9,465.5 512.4,467.1 512.4,469.5 L512.4,472.4 C512.4,473.9 513.1,474.8 514.3,474.9 Z" fill="#f8cec7" stroke="#c07a75" stroke-width="1.15" stroke-linejoin="round"/><line x1="516" y1="476.6" x2="516" y2="482.1" stroke="#c07a75" stroke-width="0.9"/><circle cx="516" cy="462.2" r="2.5" fill="#f8cec7" stroke="#c07a75" stroke-width="1.15"/></g><g><path d="M536.7,475.7 L536.7,482.9 L540.1,482.9 L540.1,475.7 C541.3,475.6 542,474.7 542,473.2 L542,470.3 C542,467.9 540.5,466.3 538.4,466.3 C536.3,466.3 534.8,467.9 534.8,470.3 L534.8,473.2 C534.8,474.7 535.5,475.6 536.7,475.7 Z" fill="#f8cec7" stroke="#c07a75" stroke-width="1.15" stroke-linejoin="round"/><line x1="538.4" y1="477.4" x2="538.4" y2="482.9" stroke="#c07a75" stroke-width="0.9"/><circle cx="538.4" cy="463" r="2.5" fill="#f8cec7" stroke="#c07a75" stroke-width="1.15"/></g><g opacity="0.995"><text x="218.3" y="293.4" text-anchor="middle" font-family="Liberation Sans, sans-serif" font-size="11.3" fill="#1c1c1c" stroke="#1c1c1c" stroke-width="0.2">360° Screen Cube</text><text x="408.4" y="293.4" text-anchor="middle" font-family="Liberation Sans, sans-serif" font-size="11.3" fill="#1c1c1c" stroke="#1c1c1c" stroke-width="0.2">Screen-Walled Black Box</text><text x="615.9" y="293.2" text-anchor="middle" font-family="Liberation Sans, sans-serif" font-size="11.3" fill="#1c1c1c" stroke="#1c1c1c" stroke-width="0.2">Screen + Foyer Viewing Area</text><text x="328.9" y="517" text-anchor="middle" font-family="Liberation Sans, sans-serif" font-size="11.3" fill="#1c1c1c" stroke="#1c1c1c" stroke-width="0.2">Multi-Game Hubs</text><text x="518.9" y="510.7" text-anchor="middle" font-family="Liberation Sans, sans-serif" font-size="11.3" fill="#1c1c1c" stroke="#1c1c1c" stroke-width="0.2">Festival / Outdoor Viewing Area</text></g>
</svg>
</body></html>
